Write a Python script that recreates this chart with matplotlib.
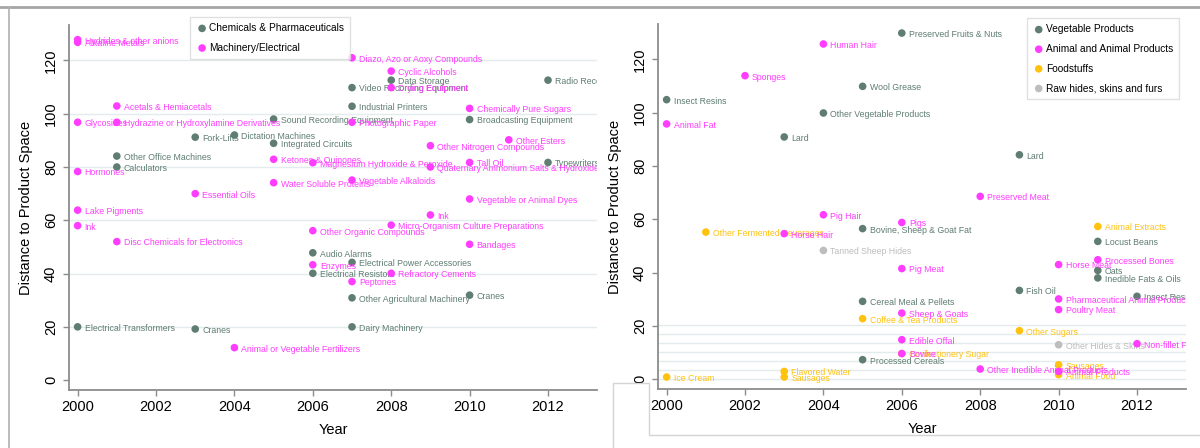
import matplotlib
matplotlib.use("Agg")
import matplotlib.pyplot as plt
from matplotlib.lines import Line2D
from matplotlib.transforms import offset_copy

plt.rcParams['font.family'] = ['Liberation Sans', 'DejaVu Sans']

GREEN = '#5f7d71'
PINK = '#ff3dff'
GOLD = '#ffc20f'
LIGHT = '#bdbdbd'

# ---- left: industrial products
chem_years = [2000, 2003, 2001, 2001, 2003, 2004, 2005, 2005, 2007, 2008,
              2007, 2010, 2012, 2012, 2006, 2006, 2007, 2007, 2007, 2010]
chem_dist = [20.0, 19.2, 84.1, 80.0, 91.2, 92.0, 98.0, 88.9, 109.8, 112.6,
             102.8, 97.8, 112.6, 81.7, 47.8, 40.1, 44.2, 30.9, 20.0, 31.9]
chem_names = ["Electrical Transformers", "Cranes", "Other Office Machines",
              "Calculators", "Fork-Lifts", "Dictation Machines",
              "Sound Recording Equipment", "Integrated Circuits",
              "Video Recording Equipment", "Data Storage", "Industrial Printers",
              "Broadcasting Equipment", "Radio Receivers", "Typewriters",
              "Audio Alarms", "Electrical Resistors",
              "Electrical Power Accessories", "Other Agricultural Machinery",
              "Dairy Machinery", "Cranes"]

mach_years = [2000, 2000, 2000, 2000, 2000, 2000, 2001, 2001, 2001, 2003,
              2004, 2005, 2005, 2006, 2006, 2006, 2007, 2007, 2007, 2007,
              2008, 2008, 2008, 2008, 2009, 2009, 2009, 2010, 2010, 2010,
              2010, 2011]
mach_dist = [127.8, 126.8, 96.8, 78.3, 63.8, 58.0, 102.9, 96.8, 52.0, 70.0,
             12.2, 82.9, 74.1, 81.6, 56.1, 43.3, 121.0, 96.8, 75.1, 37.0,
             116.0, 109.8, 58.2, 40.1, 88.0, 80.0, 62.0, 102.0, 81.7, 68.0,
             51.0, 90.2]
mach_names = ["Hydrides & other anions", "Alkaline Metals", "Glycosides",
              "Hormones", "Lake Pigments", "Ink", "Acetals & Hemiacetals",
              "Hydrazine or Hydroxylamine Derivatives",
              "Disc Chemicals for Electronics", "Essential Oils",
              "Animal or Vegetable Fertilizers", "Ketones & Quinones",
              "Water Soluble Proteins", "Magnesium Hydroxide & Peroxide",
              "Other Organic Compounds", "Enzymes",
              "Diazo, Azo or Aoxy Compounds", "Photographic Paper",
              "Vegetable Alkaloids", "Peptones", "Cyclic Alcohols",
              "Drying Equipment", "Micro-Organism Culture Preparations",
              "Refractory Cements", "Other Nitrogen Compounds",
              "Quaternary Ammonium Salts & Hydroxides", "Ink",
              "Chemically Pure Sugars", "Tall Oil", "Vegetable or Animal Dyes",
              "Bandages", "Other Esters"]

# ---- right: agricultural products
veg_years = [2000, 2003, 2004, 2005, 2006, 2009, 2005, 2005, 2005, 2009,
             2011, 2011, 2011, 2012]
veg_dist = [104.9, 90.9, 99.9, 109.9, 129.9, 84.2, 56.5, 29.2, 7.3, 33.3,
            51.7, 40.8, 38.0, 31.1]
veg_names = ["Insect Resins", "Lard", "Other Vegetable Products", "Wool Grease",
             "Preserved Fruits & Nuts", "Lard", "Bovine, Sheep & Goat Fat",
             "Cereal Meal & Pellets", "Processed Cereals", "Fish Oil",
             "Locust Beans", "Oats", "Inedible Fats & Oils", "Insect Resins"]

anim_years = [2000, 2002, 2004, 2004, 2003, 2006, 2008, 2006, 2006, 2006,
              2006, 2008, 2010, 2010, 2010, 2011, 2012, 2010]
anim_dist = [95.8, 113.9, 125.8, 61.7, 54.6, 58.8, 68.6, 41.5, 24.8, 14.8,
             9.6, 3.8, 43.0, 30.1, 26.1, 44.8, 13.3, 2.9]
anim_names = ["Animal Fat", "Sponges", "Human Hair", "Pig Hair", "Horse Hair",
              "Pigs", "Preserved Meat", "Pig Meat", "Sheep & Goats",
              "Edible Offal", "Bovine", "Other Inedible Animal Products",
              "Horse Meat", "Pharmaceutical Animal Products", "Poultry Meat",
              "Processed Bones", "Non-fillet Frozen Fish", "Animal Products"]

food_years = [2000, 2001, 2003, 2003, 2005, 2006, 2009, 2010, 2010, 2011]
food_dist = [0.8, 55.2, 2.9, 0.8, 22.7, 9.6, 18.2, 5.4, 1.7, 57.3]
food_names = ["Ice Cream", "Other Fermented Beverages", "Flavored Water",
              "Sausages", "Coffee & Tea Products", "Confectionery Sugar",
              "Other Sugars", "Sausages", "Animal Food", "Animal Extracts"]

hide_years = [2004, 2010]
hide_dist = [48.3, 12.9]
hide_names = ["Tanned Sheep Hides", "Other Hides & Skins"]

year_ticks = list(range(2000, 2013, 2))
dist_ticks = list(range(0, 121, 20))


def plot_group(ax, years, dist, names, color, label, z):
    ax.scatter(years, dist, s=30, color=color, edgecolors='none',
               label=label, zorder=z, clip_on=False)
    tr = offset_copy(ax.transData, fig=fig, x=5, y=-1, units='points')
    for x, y, n in zip(years, dist, names):
        ax.text(x, y, n, transform=tr, fontsize=6.3, color=color,
                ha='left', va='center', zorder=z, clip_on=True)


def style_axes(ax):
    for s in ('top', 'right'):
        ax.spines[s].set_visible(False)
    for s in ('left', 'bottom'):
        ax.spines[s].set_color('#8c8c8c')
        ax.spines[s].set_linewidth(1.3)
    ax.set_xlim(1999.78, 2013.25)
    ax.set_ylim(-3.7, 133.3)
    ax.set_xticks(year_ticks)
    ax.set_yticks(dist_ticks)
    ax.tick_params(which='major', length=4, width=1, color='#8c8c8c',
                   labelsize=10.5, pad=3)
    ax.tick_params(axis='y', labelrotation=90, pad=4)
    plt.setp(ax.get_yticklabels(), va='center')
    ax.set_xlabel('Year', fontsize=10.5)
    ax.set_ylabel('Distance to Product Space', fontsize=10.5)
    ax.xaxis.set_label_coords(0.5, -0.09)
    ax.yaxis.set_label_coords(-0.068, 0.5)


fig = plt.figure(figsize=(12, 4.48), dpi=100)
ax1 = fig.add_axes([69 / 1200, 1 - 390 / 448, 528 / 1200, 365 / 448])
ax2 = fig.add_axes([658 / 1200, 1 - 389 / 448, 528 / 1200, 365 / 448])

for ax in (ax1, ax2):
    style_axes(ax)

# left grid on the major ticks above zero
for v in dist_ticks[1:]:
    ax1.axhline(v, color='#e2ebee', lw=1, zorder=0)
# right panel only has the fine lines near the bottom
for v in [0, 3.4, 6.8, 10.2, 13.6, 17.0, 20.4]:
    ax2.axhline(v, color='#e2ebee', lw=1, zorder=0)

plot_group(ax1, chem_years, chem_dist, chem_names, GREEN,
           'Chemicals & Pharmaceuticals', 3)
plot_group(ax1, mach_years, mach_dist, mach_names, PINK,
           'Machinery/Electrical', 4)

plot_group(ax2, veg_years, veg_dist, veg_names, GREEN, 'Vegetable Products', 3)
plot_group(ax2, anim_years, anim_dist, anim_names, PINK,
           'Animal and Animal Products', 6)
plot_group(ax2, food_years, food_dist, food_names, GOLD, 'Foodstuffs', 4)
plot_group(ax2, hide_years, hide_dist, hide_names, LIGHT,
           'Raw hides, skins and furs', 5)

leg_kw = dict(loc='upper left', frameon=True, fancybox=False,
              edgecolor='#d9d9d9', fontsize=7.3, handletextpad=0.1,
              labelspacing=0.95, borderpad=0.6, handlelength=1.2,
              scatterpoints=1, borderaxespad=0)
l1 = ax1.legend(bbox_to_anchor=(0.229, 1.022), **leg_kw)
h, lab = ax2.get_legend_handles_labels()
order = [0, 1, 2, 3]
l2 = ax2.legend(h, lab, bbox_to_anchor=(0.698, 1.016), **leg_kw)
for lg in (l1, l2):
    lg.get_frame().set_linewidth(1)
    lg.set_zorder(10)

# page frame around the panels
def px_line(xs, ys, color, lw):
    fig.add_artist(Line2D([x / 1200 for x in xs], [1 - y / 448 for y in ys],
                          color=color, lw=lw, transform=fig.transFigure))

px_line([0, 1200], [7.5, 7.5], '#a6a6a6', 2)
px_line([8.5, 8.5], [7.5, 448], '#b0b0b0', 1.2)
px_line([613, 613, 649, 649, 1200], [448, 383, 383, 435, 435], '#d4d4d4', 1)

fig.savefig('out.png', dpi=100)
